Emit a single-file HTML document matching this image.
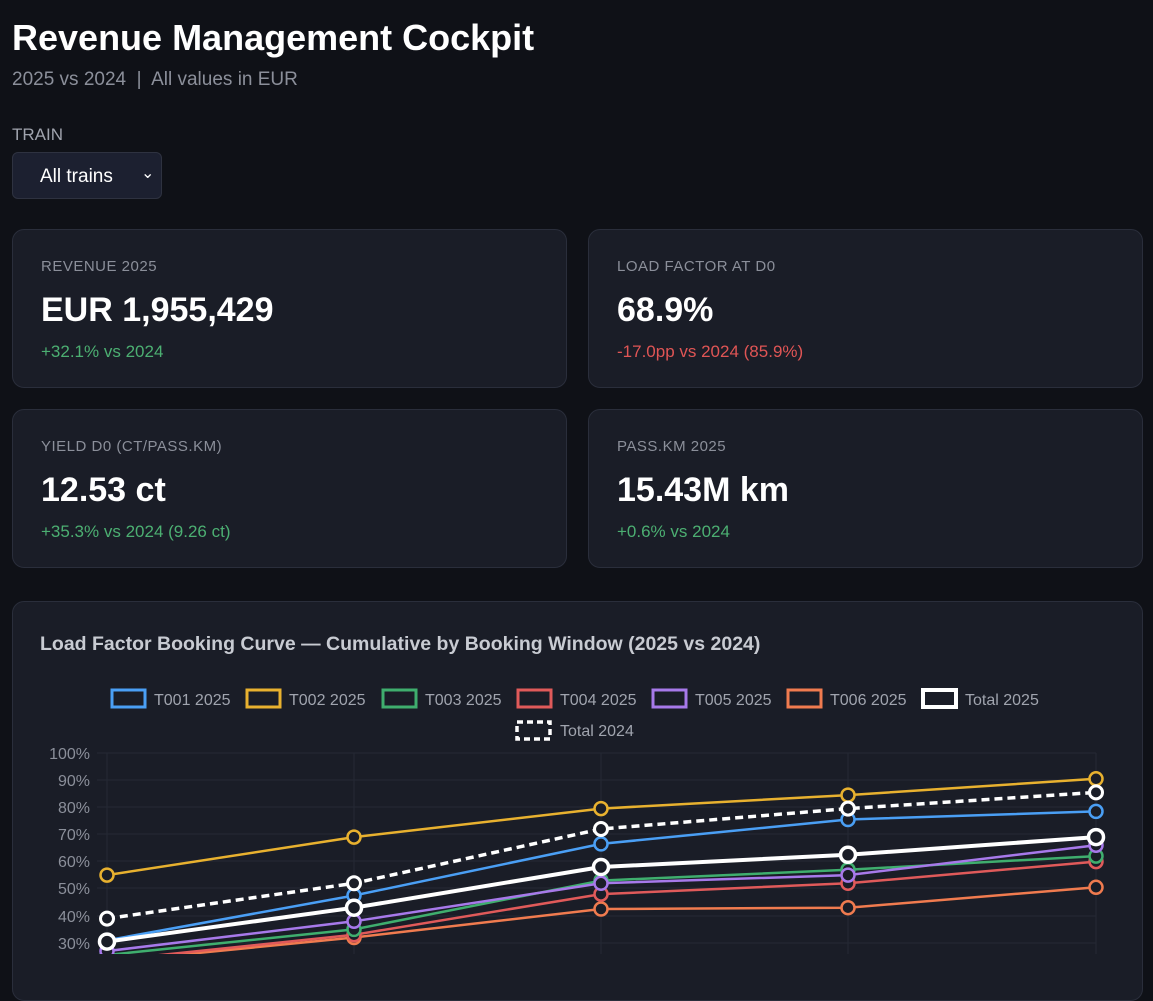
<!DOCTYPE html>
<html><head><meta charset="utf-8"><style>
body{margin:0;width:1153px;height:954px;overflow:hidden;background:#0f1117;font-family:"Liberation Sans",sans-serif;color:#fff;position:relative}
.a{position:absolute}
.card{position:absolute;background:#1a1d27;border:1px solid #2a2e3b;border-radius:12px;box-sizing:border-box}
.lab{position:absolute;left:28px;top:28px;font-size:15px;color:#8b8f9a;letter-spacing:.5px}
.val{position:absolute;left:28px;top:61px;font-size:34px;font-weight:bold}
.sub{position:absolute;left:28px;top:112px;font-size:17px}
.g{color:#4caf72}.r{color:#e05555}
</style></head><body>
<div class="a" style="left:12px;top:17px;font-size:36px;font-weight:bold">Revenue Management Cockpit</div>
<div class="a" style="left:12px;top:69px;font-size:19px;color:#8b8f9a">2025 vs 2024 &nbsp;|&nbsp; All values in EUR</div>
<div class="a" style="left:12px;top:125px;font-size:17px;color:#a0a4ae">TRAIN</div>
<div class="a" style="left:12px;top:152px;width:150px;height:47px;background:#1c2030;border:1px solid #2e3240;border-radius:6px;box-sizing:border-box"><span class="a" style="left:27px;top:13px;font-size:19px">All trains</span><span class="a" style="left:128px;top:10px;font-size:16px">&#8964;</span></div>

<div class="card" style="left:12px;top:229px;width:555px;height:159px"><div class="lab">REVENUE 2025</div><div class="val">EUR 1,955,429</div><div class="sub g">+32.1% vs 2024</div></div>
<div class="card" style="left:588px;top:229px;width:555px;height:159px"><div class="lab">LOAD FACTOR AT D0</div><div class="val">68.9%</div><div class="sub r">-17.0pp vs 2024 (85.9%)</div></div>
<div class="card" style="left:12px;top:409px;width:555px;height:159px"><div class="lab">YIELD D0 (CT/PASS.KM)</div><div class="val">12.53 ct</div><div class="sub g">+35.3% vs 2024 (9.26 ct)</div></div>
<div class="card" style="left:588px;top:409px;width:555px;height:159px"><div class="lab">PASS.KM 2025</div><div class="val">15.43M km</div><div class="sub g">+0.6% vs 2024</div></div>

<div class="card" style="left:12px;top:601px;width:1131px;height:400px"></div>
<div class="a" style="left:40px;top:633px;font-size:19.5px;font-weight:bold;color:#c8cbd2">Load Factor Booking Curve — Cumulative by Booking Window (2025 vs 2024)</div>
<svg class="a" style="left:0;top:0" width="1153" height="954" font-family="Liberation Sans, sans-serif">
<g fill="none" stroke-width="3">
<rect x="112" y="690" width="33" height="17" stroke="#4a9ff5"/>
<rect x="247" y="690" width="33" height="17" stroke="#e8b12f"/>
<rect x="383" y="690" width="33" height="17" stroke="#3fae6e"/>
<rect x="518" y="690" width="33" height="17" stroke="#e05a5a"/>
<rect x="653" y="690" width="33" height="17" stroke="#a779ea"/>
<rect x="788" y="690" width="33" height="17" stroke="#f07b4f"/>
<rect x="923" y="690" width="33" height="17" stroke="#fff" stroke-width="4"/>
<rect x="517" y="722" width="33" height="17" stroke="#fff" stroke-width="3.5" stroke-dasharray="6,4"/>
</g>
<g fill="#a0a4ae" font-size="16">
<text x="154" y="705">T001 2025</text><text x="289" y="705">T002 2025</text><text x="425" y="705">T003 2025</text><text x="560" y="705">T004 2025</text><text x="695" y="705">T005 2025</text><text x="830" y="705">T006 2025</text><text x="965" y="705">Total 2025</text><text x="560" y="736">Total 2024</text>
</g>
<g stroke="#252934" stroke-width="1">
<line x1="97" y1="753" x2="1096" y2="753"/><line x1="97" y1="780" x2="1096" y2="780"/><line x1="97" y1="807" x2="1096" y2="807"/><line x1="97" y1="834" x2="1096" y2="834"/><line x1="97" y1="861" x2="1096" y2="861"/><line x1="97" y1="888" x2="1096" y2="888"/><line x1="97" y1="916" x2="1096" y2="916"/><line x1="97" y1="943" x2="1096" y2="943"/>
<line x1="107" y1="753" x2="107" y2="954"/><line x1="354" y1="753" x2="354" y2="954"/><line x1="601" y1="753" x2="601" y2="954"/><line x1="848" y1="753" x2="848" y2="954"/><line x1="1096" y1="753" x2="1096" y2="954"/>
</g>
<g fill="#8b8f9a" font-size="16" text-anchor="end">
<text x="90" y="759">100%</text><text x="90" y="786">90%</text><text x="90" y="813">80%</text><text x="90" y="840">70%</text><text x="90" y="867">60%</text><text x="90" y="894">50%</text><text x="90" y="922">40%</text><text x="90" y="949">30%</text>
</g>
<g fill="none" stroke-width="2.5">
<g stroke="#f07b4f"><polyline points="107,962 354,937.5 601,909 848,907.7 1096,887.3"/><g fill="#1a1d27"><circle cx="354" cy="937.5" r="6.5"/><circle cx="601" cy="909" r="6.5"/><circle cx="848" cy="907.7" r="6.5"/><circle cx="1096" cy="887.3" r="6.5"/></g></g>
<g stroke="#e05a5a"><polyline points="107,960.6 354,934.8 601,894.1 848,883.3 1096,861.6"/><g fill="#1a1d27"><circle cx="354" cy="934.8" r="6.5"/><circle cx="601" cy="894.1" r="6.5"/><circle cx="848" cy="883.3" r="6.5"/><circle cx="1096" cy="861.6" r="6.5"/></g></g>
<g stroke="#3fae6e"><polyline points="107,955 354,929.4 601,880.6 848,869.7 1096,856.1"/><g fill="#1a1d27"><circle cx="107" cy="955" r="6.5"/><circle cx="354" cy="929.4" r="6.5"/><circle cx="601" cy="880.6" r="6.5"/><circle cx="848" cy="869.7" r="6.5"/><circle cx="1096" cy="856.1" r="6.5"/></g></g>
<g stroke="#a779ea"><polyline points="107,951.1 354,921.3 601,883.3 848,875.1 1096,845.3"/><g fill="#1a1d27"><circle cx="107" cy="951.1" r="6.5"/><circle cx="354" cy="921.3" r="6.5"/><circle cx="601" cy="883.3" r="6.5"/><circle cx="848" cy="875.1" r="6.5"/><circle cx="1096" cy="845.3" r="6.5"/></g></g>
<g stroke="#4a9ff5"><polyline points="107,940.3 354,895.5 601,843.9 848,819.5 1096,811.4"/><g fill="#1a1d27"><circle cx="107" cy="940.3" r="6.5"/><circle cx="354" cy="895.5" r="6.5"/><circle cx="601" cy="843.9" r="6.5"/><circle cx="848" cy="819.5" r="6.5"/><circle cx="1096" cy="811.4" r="6.5"/></g></g>
<g stroke="#e8b12f"><polyline points="107,875.1 354,837.1 601,808.6 848,795.1 1096,778.8"/><g fill="#1a1d27"><circle cx="107" cy="875.1" r="6.5"/><circle cx="354" cy="837.1" r="6.5"/><circle cx="601" cy="808.6" r="6.5"/><circle cx="848" cy="795.1" r="6.5"/><circle cx="1096" cy="778.8" r="6.5"/></g></g>
<g stroke="#fff" stroke-width="3.5"><polyline points="107,918.6 354,883.3 601,829 848,808.6 1096,792.4" stroke-dasharray="8,5"/><g fill="#1a1d27" stroke-width="3"><circle cx="107" cy="918.6" r="6.5"/><circle cx="354" cy="883.3" r="6.5"/><circle cx="601" cy="829" r="6.5"/><circle cx="848" cy="808.6" r="6.5"/><circle cx="1096" cy="792.4" r="6.5"/></g></g>
<g stroke="#fff" stroke-width="4"><polyline points="107,941.6 354,907.7 601,867 848,854.8 1096,837.1"/><g fill="#1a1d27" stroke-width="3.5"><circle cx="107" cy="941.6" r="7.5"/><circle cx="354" cy="907.7" r="7.5"/><circle cx="601" cy="867" r="7.5"/><circle cx="848" cy="854.8" r="7.5"/><circle cx="1096" cy="837.1" r="7.5"/></g></g>
</g>
</svg>
</body></html>
